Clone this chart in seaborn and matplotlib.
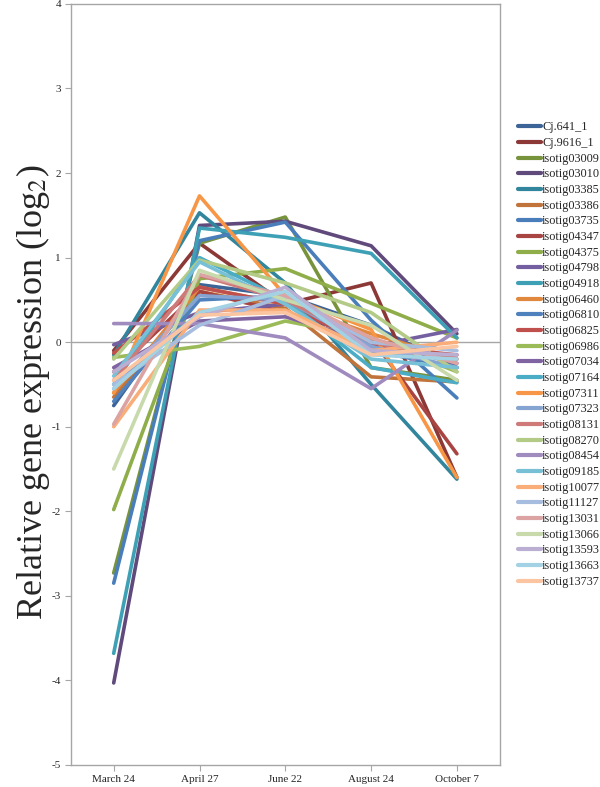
import numpy as np
import pandas as pd
import seaborn as sns
import matplotlib
matplotlib.use('Agg')
import matplotlib.pyplot as plt

# Data (log2 relative expression).
dates = ['March 24', 'April 27', 'June 22', 'August 24', 'October 7']

genes = ['Cj.641_1', 'Cj.9616_1', 'isotig03009', 'isotig03010', 'isotig03385',
         'isotig03386', 'isotig03735', 'isotig04347', 'isotig04375', 'isotig04798',
         'isotig04918', 'isotig06460', 'isotig06810', 'isotig06825', 'isotig06986',
         'isotig07034', 'isotig07164', 'isotig07311', 'isotig07323', 'isotig08131',
         'isotig08270', 'isotig08454', 'isotig09185', 'isotig10077', 'isotig11127',
         'isotig13031', 'isotig13066', 'isotig13593', 'isotig13663', 'isotig13737']

values = [
    [-0.75, 0.68, 0.55, 0.20, -0.30],
    [-0.10, 1.17, 0.45, 0.70, -1.60],
    [-2.73, 1.17, 1.48, -0.30, -0.45],
    [-4.03, 1.38, 1.43, 1.14, 0.10],
    [-0.15, 1.53, 0.70, -0.50, -1.62],
    [-0.65, 0.60, 0.40, -0.41, -0.47],
    [-2.85, 1.20, 1.42, 0.26, -0.66],
    [-0.35, 0.60, 0.35, 0.05, -1.32],
    [-1.98, 0.75, 0.87, 0.46, 0.05],
    [-0.03, 0.35, 0.45, -0.05, 0.15],
    [-3.68, 1.35, 1.24, 1.05, 0.05],
    [-0.60, 0.65, 0.45, 0.10, -0.20],
    [-0.70, 0.50, 0.55, -0.10, -0.30],
    [-0.13, 0.65, 0.45, -0.05, -0.15],
    [-0.18, -0.05, 0.25, 0.05, -0.35],
    [-0.30, 0.25, 0.30, 0.00, -0.25],
    [-0.50, 1.00, 0.50, -0.30, -0.48],
    [-0.60, 1.73, 0.55, 0.15, -1.60],
    [-0.55, 0.55, 0.50, -0.05, -0.30],
    [-0.45, 0.79, 0.50, 0.00, -0.20],
    [-0.20, 0.97, 0.70, 0.35, -0.35],
    [0.22, 0.22, 0.05, -0.55, 0.14],
    [-0.40, 0.95, 0.45, -0.20, -0.30],
    [-1.00, 0.38, 0.38, -0.10, 0.00],
    [-0.50, 0.20, 0.55, 0.00, -0.10],
    [-0.97, 0.80, 0.55, 0.05, -0.25],
    [-1.50, 0.85, 0.50, 0.20, -0.45],
    [-0.35, 0.30, 0.65, -0.10, -0.15],
    [-0.55, 0.35, 0.60, -0.15, -0.20],
    [-0.45, 0.32, 0.35, -0.15, -0.05],
]

colors = ['#3C6497', '#8C3836', '#77933C', '#604A7B', '#31859C', '#C0733A',
          '#4A7EBB', '#A84442', '#8FAE4A', '#7460A0', '#3EA0B5', '#E0883E',
          '#4F81BD', '#C0504D', '#9BBB59', '#8064A2', '#4BACC6', '#F79646',
          '#86A4D2', '#CD7A78', '#B3CB86', '#A08BBE', '#78C0D6', '#F9AD78',
          '#A7BDE0', '#DBA3A2', '#C8D9AB', '#BBAED3', '#A2D2E3', '#FBC5A2']


def main():
    # Long format table.
    rows = []
    for g, vals in zip(genes, values):
        for d, v in zip(dates, vals):
            rows.append({'date': d, 'gene': g, 'value': v})
    df = pd.DataFrame(rows)

    sns.set_style('white')
    plt.rcParams['font.family'] = ['Liberation Serif', 'DejaVu Serif']
    plt.rcParams['mathtext.fontset'] = 'stix'

    fig = plt.figure(figsize=(6, 7.87), dpi=100)
    ax = fig.add_axes([0.118, 0.028, 0.715, 0.967])

    ax.axhline(0, color='#A6A6A6', lw=1, zorder=0)
    sns.lineplot(data=df, x='date', y='value', hue='gene', hue_order=genes,
                 palette=colors, lw=2.6, sort=False, ax=ax, legend=True)

    ax.set_xlim(-0.5, 4.5)
    ax.set_ylim(-5, 4)
    ax.set_yticks(np.arange(-5, 5, 1))
    ax.set_yticklabels([str(t) for t in range(-5, 5)], fontsize=8)
    ax.set_xticks(range(len(dates)))
    ax.set_xticklabels(dates, fontsize=8)
    ax.tick_params(axis='both', direction='out', length=4, width=0.8,
                   color='#A6A6A6', pad=3, left=True, bottom=True)
    ax.set_xlabel('')
    ax.set_ylabel('Relative gene expression (log$_2$)', fontsize=26)
    ax.yaxis.set_label_coords(-0.044, 0.49)

    for s in ax.spines.values():
        s.set_color('#A6A6A6')
        s.set_linewidth(1)

    handles, labels = ax.get_legend_handles_labels()
    for h in handles:
        h.set_linewidth(3)
    ax.legend(handles, labels, loc='upper left', bbox_to_anchor=(1.03, 0.852),
              frameon=False, fontsize=8.8, handlelength=1.9, handletextpad=0.1,
              labelspacing=0.30, borderaxespad=0)

    plt.savefig('out.png', dpi=100)
    plt.close()


if __name__ == '__main__':
    main()
